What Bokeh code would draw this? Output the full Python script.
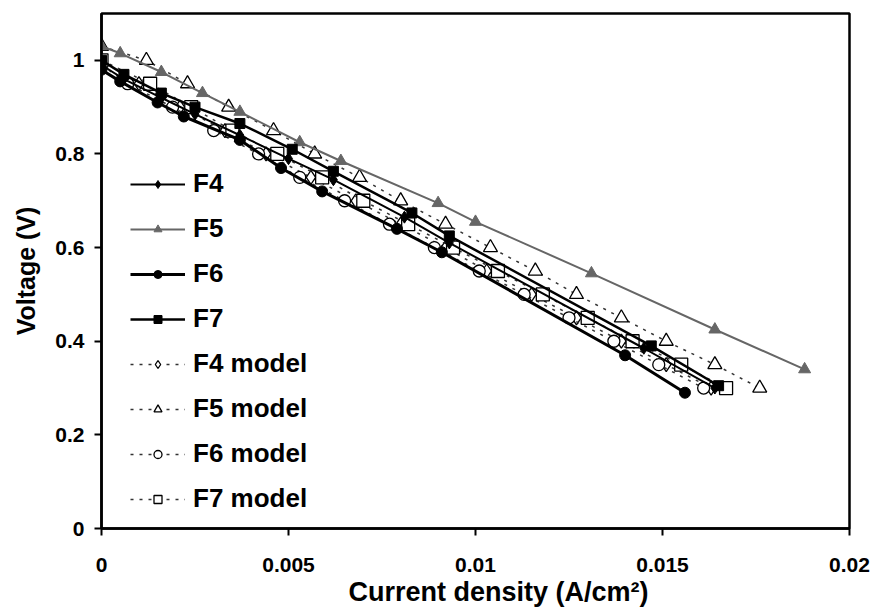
from bokeh.plotting import figure
from bokeh.models import Legend, LegendItem, FixedTicker, Range1d, Title
from bokeh.embed import file_html
from bokeh.resources import INLINE

# ---- data ----
f4_x = [0, 0.0006, 0.0016, 0.0025, 0.0037, 0.0050, 0.0062, 0.0081, 0.0093, 0.0145, 0.0164]
f4_y = [0.99, 0.96, 0.92, 0.885, 0.84, 0.79, 0.745, 0.665, 0.61, 0.385, 0.30]

f5_x = [0, 0.0005, 0.0016, 0.0027, 0.0037, 0.0053, 0.0064, 0.0090, 0.0100, 0.0131, 0.0164, 0.0188]
f5_y = [1.03, 1.015, 0.975, 0.93, 0.89, 0.825, 0.785, 0.695, 0.655, 0.545, 0.425, 0.34]

f6_x = [0, 0.0005, 0.0015, 0.0022, 0.0037, 0.0048, 0.0059, 0.0079, 0.0091, 0.0140, 0.0156]
f6_y = [0.98, 0.955, 0.91, 0.88, 0.83, 0.77, 0.72, 0.64, 0.59, 0.37, 0.29]

f7_x = [0, 0.0006, 0.0016, 0.0025, 0.0037, 0.0051, 0.0062, 0.0083, 0.0093, 0.0147, 0.0165]
f7_y = [1.0, 0.97, 0.93, 0.90, 0.865, 0.81, 0.763, 0.674, 0.625, 0.39, 0.305]

model_v = [1.0, 0.95, 0.90, 0.85, 0.80, 0.75, 0.70, 0.65, 0.60, 0.55, 0.50, 0.45, 0.40, 0.35, 0.30]

f4m_x = [0, 0.0010, 0.0021, 0.0033, 0.0044, 0.0056, 0.0068, 0.0080, 0.0092, 0.0103, 0.0115, 0.0127, 0.0139, 0.0151, 0.0163]
f4m_y = model_v

f5m_x = [0, 0.0012, 0.0023, 0.0034, 0.0046, 0.0057, 0.0069, 0.0080, 0.0092, 0.0104, 0.0116, 0.0127, 0.0139, 0.0151, 0.0164, 0.0176]
f5m_y = [1.03, 1.0, 0.95, 0.90, 0.85, 0.80, 0.75, 0.70, 0.65, 0.60, 0.55, 0.50, 0.45, 0.40, 0.35, 0.30]

f6m_x = [0, 0.0007, 0.0019, 0.0030, 0.0042, 0.0053, 0.0065, 0.0077, 0.0089, 0.0101, 0.0113, 0.0125, 0.0137, 0.0149, 0.0161]
f6m_y = [0.99, 0.95, 0.90, 0.85, 0.80, 0.75, 0.70, 0.65, 0.60, 0.55, 0.50, 0.45, 0.40, 0.35, 0.30]

f7m_x = [0, 0.0013, 0.0024, 0.0035, 0.0047, 0.0059, 0.0070, 0.0082, 0.0094, 0.0106, 0.0118, 0.0130, 0.0142, 0.0155, 0.0167]
f7m_y = model_v

x_ticks = [0, 0.005, 0.01, 0.015, 0.02]
x_tick_labels = ["0", "0.005", "0.01", "0.015", "0.02"]
y_ticks = [0, 0.2, 0.4, 0.6, 0.8, 1.0]
y_tick_labels = ["0", "0.2", "0.4", "0.6", "0.8", "1"]
x_title = "Current density (A/cm\u00b2)"
y_title = "Voltage (V)"

FONT = "Liberation Sans"
GRAY = "#666666"

p = figure(width=876, height=613, output_backend="svg", toolbar_location=None,
           x_range=Range1d(0, 0.02), y_range=Range1d(0, 1.1),
           min_border_left=101, min_border_right=27, min_border_top=13, min_border_bottom=85)
p.grid.visible = False
p.background_fill_color = "white"
p.border_fill_color = "white"
p.outline_line_color = "black"
p.outline_line_width = 2.5

def model(xs, ys, marker, label, size=11):
    l = p.line(xs, ys, line_color="#333333", line_width=1.5, line_dash="3 6")
    s = p.scatter(xs, ys, marker=marker, size=size, fill_color="white", line_color="black", line_width=1.3)
    return LegendItem(label=label, renderers=[l, s])

def expt(xs, ys, marker, label, color="black", lw=2.0, size=10):
    l = p.line(xs, ys, line_color=color, line_width=lw)
    s = p.scatter(xs, ys, marker=marker, size=size, fill_color=color, line_color=color)
    return LegendItem(label=label, renderers=[l, s])

it_f4m = model(f4m_x, f4m_y, "diamond", "F4 model", size=14)
it_f5m = model(f5m_x, f5m_y, "triangle", "F5 model", size=14)
it_f6m = model(f6m_x, f6m_y, "circle", "F6 model", size=12)
it_f7m = model(f7m_x, f7m_y, "square", "F7 model", size=13)

it_f5 = expt(f5_x, f5_y, "triangle", "F5", color=GRAY, lw=2.0, size=12)
it_f4 = expt(f4_x, f4_y, "diamond", "F4", lw=2.0, size=12)
it_f7 = expt(f7_x, f7_y, "square", "F7", lw=2.5, size=10)
it_f6 = expt(f6_x, f6_y, "circle", "F6", lw=3.0, size=11)

legend = Legend(items=[it_f4, it_f5, it_f6, it_f7, it_f4m, it_f5m, it_f6m, it_f7m],
                location=(29, 14), padding=0, margin=0, spacing=14,
                glyph_width=55, glyph_height=20, label_height=20, label_standoff=8,
                label_text_font=FONT, label_text_font_style="bold", label_text_font_size="26px",
                label_text_color="black",
                border_line_color=None, background_fill_alpha=0)
p.add_layout(legend, "center")

for ax in (p.xaxis[0], p.yaxis[0]):
    ax.axis_line_width = 2.5
    ax.axis_line_color = "black"
    ax.major_tick_line_width = 2
    ax.major_tick_in = 0
    ax.major_tick_out = 7
    ax.minor_tick_line_color = None
    ax.major_label_text_font = FONT
    ax.major_label_text_font_style = "bold"
    ax.major_label_text_font_size = "21px"
    ax.major_label_text_color = "black"
    ax.axis_label_text_font = FONT
    ax.axis_label_text_font_style = "bold"
    ax.axis_label_text_font_size = "25px"
    ax.axis_label_text_color = "black"

p.xaxis.ticker = FixedTicker(ticks=x_ticks)
p.xaxis.major_label_overrides = dict(zip(x_ticks, x_tick_labels))
p.yaxis.ticker = FixedTicker(ticks=y_ticks)
p.yaxis.major_label_overrides = dict(zip(y_ticks, y_tick_labels))
p.yaxis.axis_label = y_title
p.xaxis.major_label_standoff = 22
p.yaxis.major_label_standoff = 10
p.yaxis.axis_label_standoff = 12

# x-axis title placed slightly right of centre, as in the reference
p.add_layout(Title(text=x_title, align="left", offset=247, standoff=0,
                   text_font=FONT, text_font_style="bold", text_font_size="27px",
                   text_color="black"), "below")

open("out.html", "w").write(file_html(p, INLINE))
